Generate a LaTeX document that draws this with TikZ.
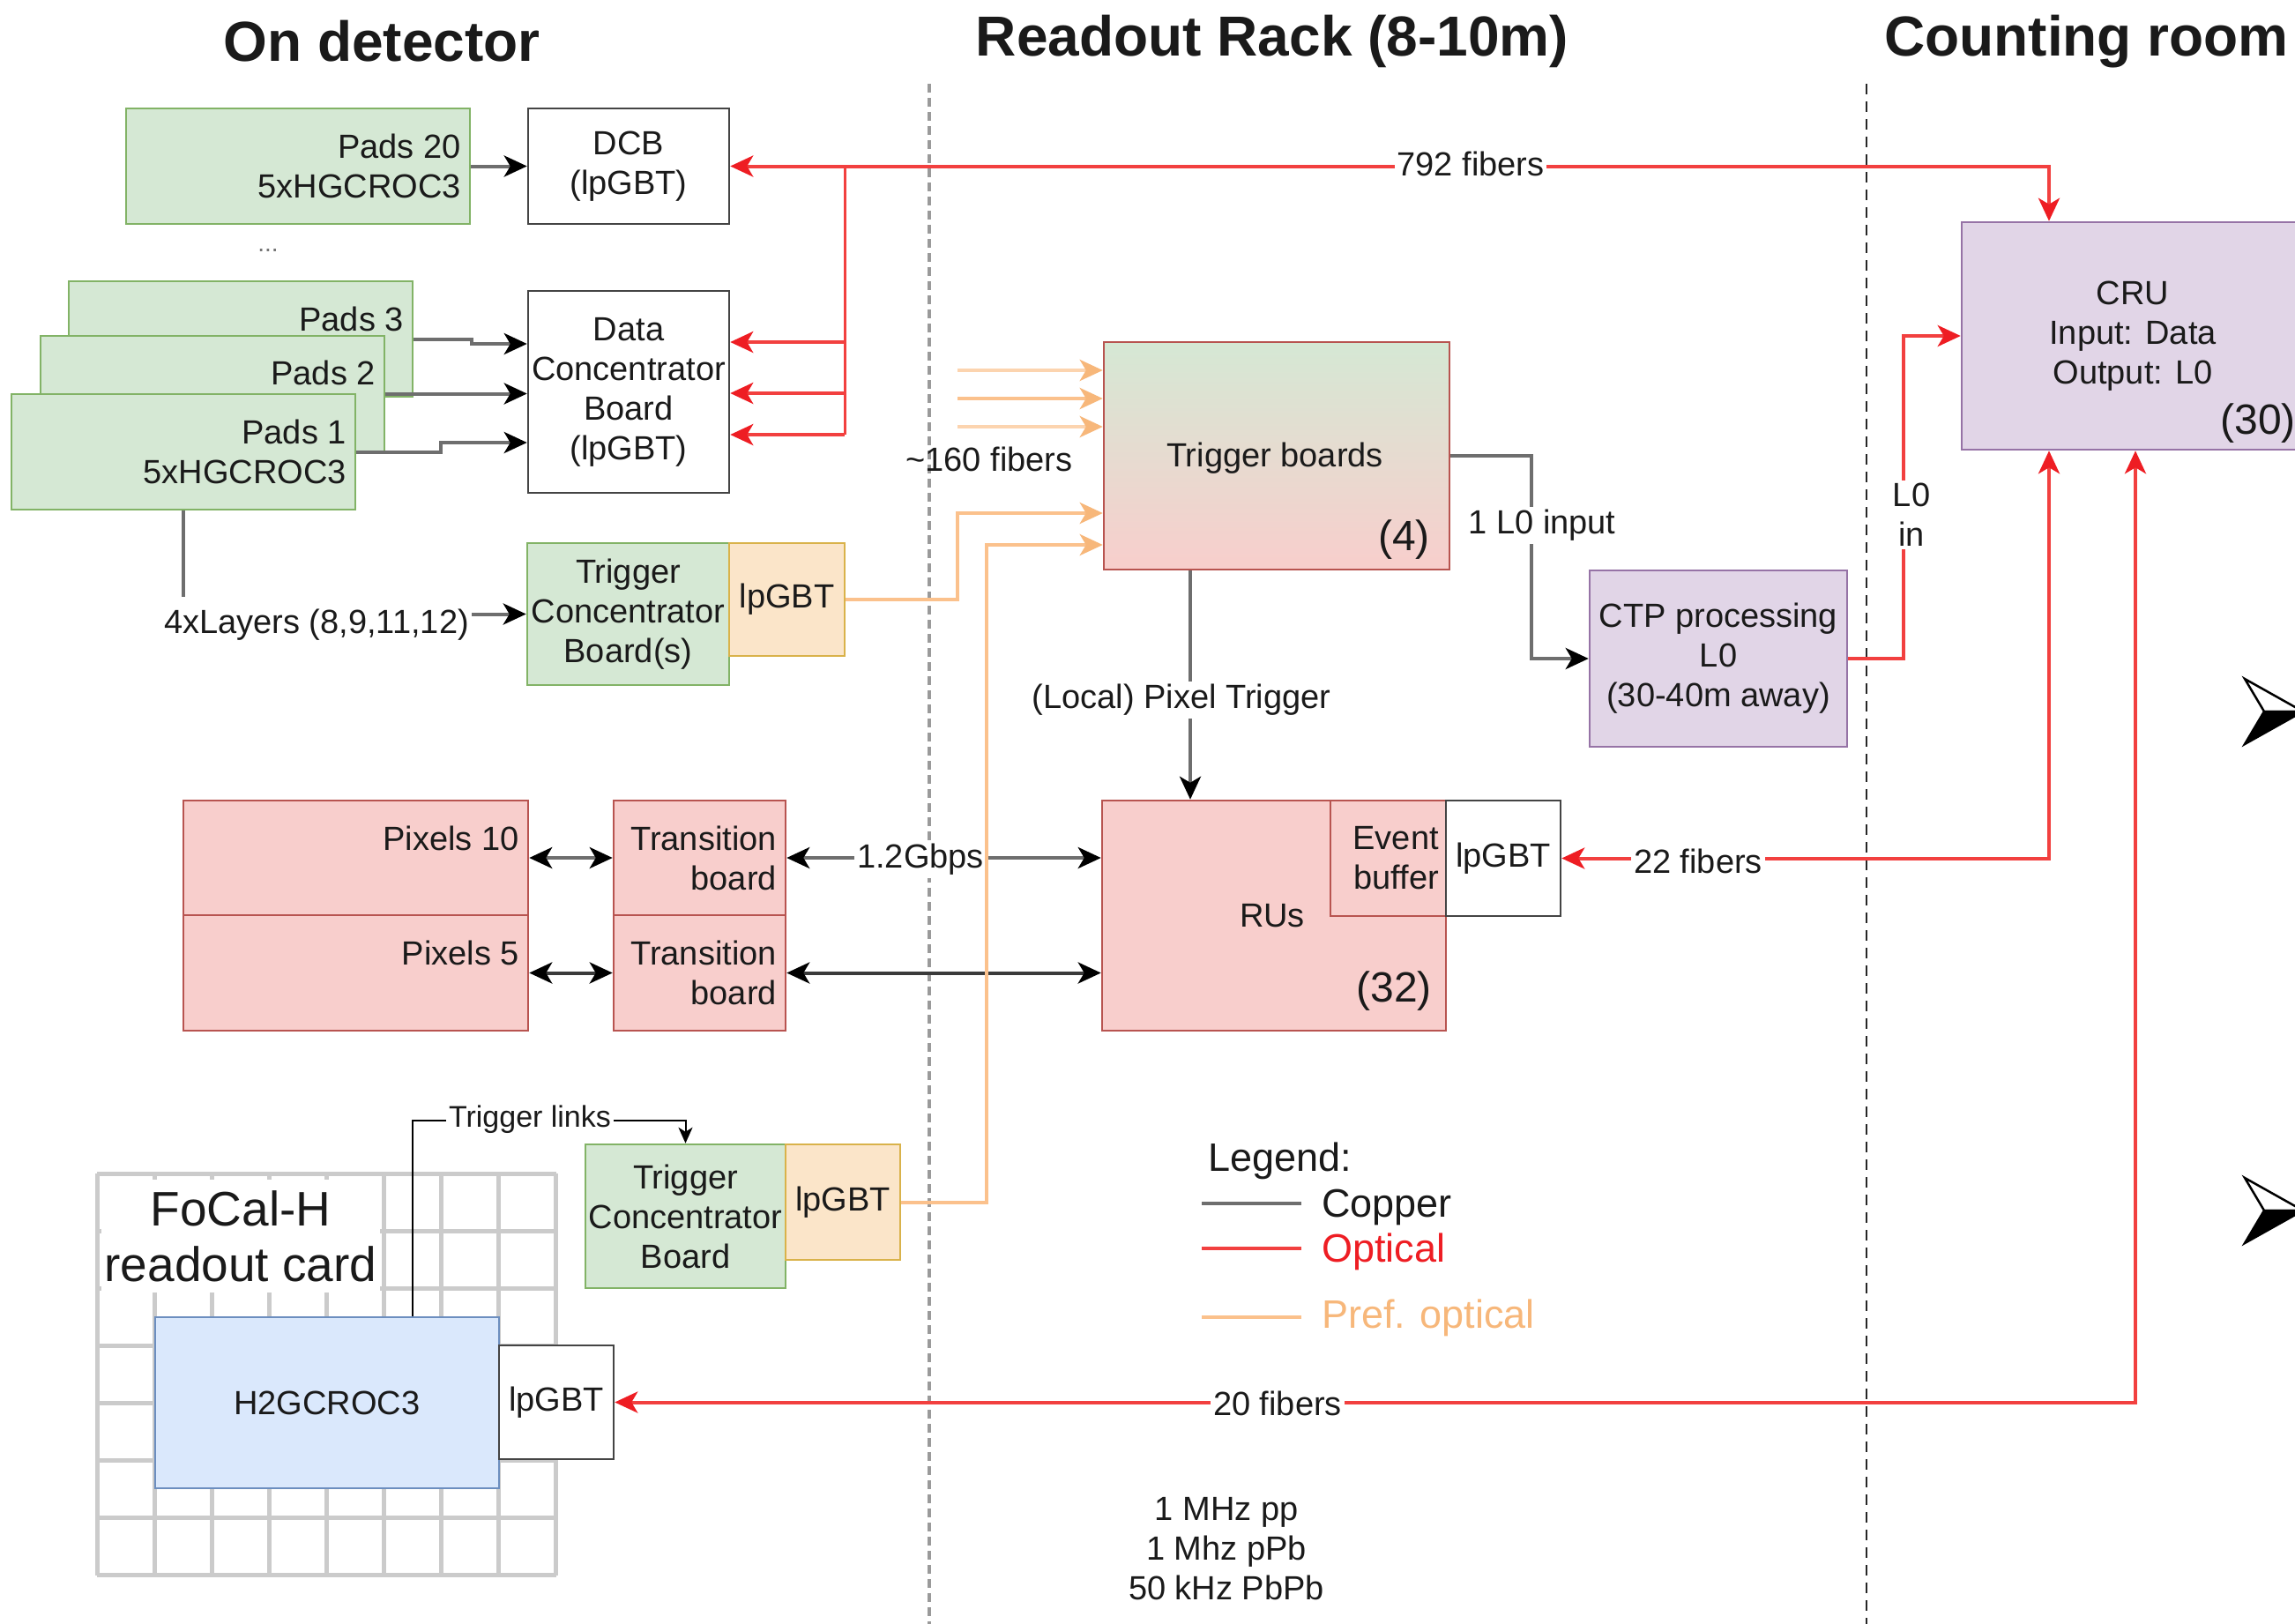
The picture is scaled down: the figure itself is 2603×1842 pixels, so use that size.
\documentclass[tikz,border=0pt]{standalone}
\usepackage{fontspec}
\setmainfont{Liberation Sans}
\usetikzlibrary{arrows.meta,calc}

\definecolor{grF}{HTML}{D5E8D4}\definecolor{grD}{HTML}{82B366}
\definecolor{rdF}{HTML}{F8CECC}\definecolor{rdD}{HTML}{B85450}
\definecolor{puF}{HTML}{E1D5E7}\definecolor{puD}{HTML}{9673A6}
\definecolor{orF}{HTML}{FBE5C9}\definecolor{orD}{HTML}{D9B24A}
\definecolor{blF}{HTML}{DAE8FC}\definecolor{blD}{HTML}{6C8EBF}
\definecolor{boxK}{HTML}{444444}
\definecolor{optL}{HTML}{F2403F}\definecolor{optT}{HTML}{EE1D23}
\definecolor{prefL}{HTML}{FBC18C}\definecolor{prefT}{HTML}{F7B77A}
\definecolor{cuL}{HTML}{6E6E6E}\definecolor{cuD}{HTML}{3A3A3A}
\definecolor{txt}{HTML}{1A1A1A}
\definecolor{gridC}{HTML}{CBCBCB}
\definecolor{sepG}{HTML}{9A9A9A}

\newcommand\lblfont{\fontsize{38}{45}\selectfont}
\newcommand\smallfont{\fontsize{34}{40}\selectfont}
\newcommand\bigfont{\fontsize{48}{56}\selectfont}
\newcommand\legfont{\fontsize{45}{52}\selectfont}
\newcommand\cardfont{\fontsize{55}{63}\selectfont}
\newcommand\titlefont{\fontsize{64}{72}\selectfont\bfseries}

\begin{document}
\begin{tikzpicture}[x=1pt,y=-1pt,
  every node/.style={inner sep=0pt,text=txt,font=\lblfont,align=center},
  sz/.style n args={2}{minimum width=#1pt,minimum height=#2pt},
  box/.style={draw,line width=2.5pt},
  greenbox/.style={box,fill=grF,draw=grD},
  redbox/.style={box,fill=rdF,draw=rdD},
  purplebox/.style={box,fill=puF,draw=puD},
  orangebox/.style={box,fill=orF,draw=orD},
  bluebox/.style={box,fill=blF,draw=blD},
  whitebox/.style={box,fill=white,draw=boxK},
  rtext/.style={anchor=east,align=right},
  lab/.style={fill=white,inner xsep=3pt,inner ysep=3pt},
  cu/.style={draw=cuL,line width=4pt},
  cuarr/.style={cu,-{Stealth[length=26pt,width=24pt,inset=7pt,color=black]}},
  cubi/.style={cu,{Stealth[length=26pt,width=24pt,inset=7pt,color=black]}-{Stealth[length=26pt,width=24pt,inset=7pt,color=black]}},
  opt/.style={draw=optL,line width=4pt},
  optarr/.style={opt,-{Stealth[length=26pt,width=24pt,inset=7pt,color=optT]}},
  optbi/.style={opt,{Stealth[length=26pt,width=24pt,inset=7pt,color=optT]}-{Stealth[length=26pt,width=24pt,inset=7pt,color=optT]}},
  pref/.style={draw=prefL,line width=4pt},
  prefarr/.style={pref,-{Stealth[length=26pt,width=24pt,inset=7pt,color=prefT]}},
  thinarr/.style={draw=black,line width=2pt,-{Stealth[length=18pt,width=16pt,inset=5pt,color=black]}},
  sepA/.style={draw=sepG,line width=3.5pt,dash pattern=on 10pt off 6pt},
  sepB/.style={draw=black!85,line width=2.5pt,dash pattern=on 12pt off 8pt},
  gridline/.style={draw=gridC,line width=5pt}
]
\useasboundingbox (0,0) rectangle (2603,1842);
\fill[white] (0,0) rectangle (2603,1842);

% zone separators
\draw[sepA] (1054,95) -- (1054,1842);
\draw[sepB] (2117,95) -- (2117,1842);

% zone titles
\node[font=\titlefont] (tDet) at (433,47) {On detector};
\node[font=\titlefont] (tRack) at (1443,47) {Readout Rack (8-10m)};
\node[font=\titlefont,anchor=west] (tCount) at (2137,47) {Counting room};

% ---------- pad layers ----------
\node[greenbox,sz={390}{131}] (p20) at (338,188.5) {};
\node[rtext] (p20t) at (523,188.5) {Pads 20\\5xHGCROC3};
\node[font=\fontsize{28}{32}\selectfont,text=black!55] (dots) at (304,284) {...};
\node[greenbox,sz={390}{131}] (p3) at (273,384.5) {};
\node[rtext] (p3t) at (458,362) {Pads 3};
\node[greenbox,sz={390}{131}] (p2) at (241,446.5) {};
\node[rtext] (p2t) at (426,423) {Pads 2};
\node[greenbox,sz={390}{131}] (p1) at (208,512.5) {};
\node[rtext] (p1t) at (393,512.5) {Pads 1\\5xHGCROC3};

\node[whitebox,sz={228}{131}] (dcb) at (713,188.5) {DCB\\(lpGBT)};
\node[whitebox,sz={228}{229}] (dc) at (713,444.5) {Data\\Concentrator\\Board\\(lpGBT)};

% pads to concentrators (copper)
\draw[cuarr] (p20.east) -- (dcb.west);
\coordinate (j3) at (535,390);
\draw[cuarr] (p3.east) -- (535,384.5) -- (j3) -- (dc.west |- j3);
\draw[cuarr] (p2.east) -- (dc.west |- p2.east);
\coordinate (j1) at (500,502);
\draw[cuarr] (p1.east) -- (500,512.5) -- (j1) -- (dc.west |- j1);

% trigger concentrator (pads)
\node[greenbox,sz={229}{161}] (tcb1) at (712.5,696.5) {Trigger\\Concentrator\\Board(s)};
\node[orangebox,sz={131}{128}] (lp1) at (892.5,680) {lpGBT};
\draw[cuarr] (p1.south) |- (tcb1.west);
\node[lab,inner ysep=14pt] (layers) at (359,709) {4xLayers (8,9,11,12)};

% ---------- optical links to the counting room ----------
\node[purplebox,sz={388}{258}] (cru) at (2419,381) {CRU\\Input: Data\\Output: L0};
\node[font=\bigfont,anchor=east] (cruN) at (2604,480) {(30)};

\draw[optbi] (dcb.east) -| ([xshift=-95pt]cru.north);
\node[lab] (f792) at (1668,186) {792 fibers};
\coordinate (tr0) at (958,188.5);
\coordinate (tr1) at (958,388);
\coordinate (tr2) at (958,446);
\coordinate (tr3) at (958,493);
\draw[opt,line width=3pt] (tr0) -- (tr3);
\draw[optarr] (tr1) -- (dc.east |- tr1);
\draw[optarr] (tr2) -- (dc.east |- tr2);
\draw[optarr] (tr3) -- (dc.east |- tr3);

% ---------- trigger boards ----------
\node[box,draw=rdD,top color=grF,bottom color=rdF,sz={392}{258}] (tb) at (1448,517) {};
\node (tbt) at (1446,520) {Trigger boards};
\node[font=\bigfont,anchor=east] (tbN) at (1622,612) {(4)};

\coordinate (o1) at (1086,420);
\coordinate (o2) at (1086,452);
\coordinate (o3) at (1086,484);
\draw[prefarr,draw=prefL!70] (o1) -- (tb.west |- o1);
\draw[prefarr] (o2) -- (tb.west |- o2);
\draw[prefarr,draw=prefL!70] (o3) -- (tb.west |- o3);
\node (f160) at (1122,521) {\textasciitilde160 fibers};
\draw[prefarr] (lp1.east) -- (1086,680) |- ([yshift=-65pt]tb.west);

% CTP
\node[purplebox,sz={292}{200}] (ctp) at (1949,747) {CTP processing\\L0\\(30-40m away)};
\draw[cuarr] (tb.east) -| ([xshift=-65pt]ctp.west) -- (ctp.west);
\node[lab] (l0inp) at (1749,596) {1 L0 input};
\draw[optarr] (ctp.east) -| ([xshift=-65pt]cru.west) -- (cru.west);
\node[lab] (l0in) at (2168,584) {L0\\in};

% ---------- pixel layers ----------
\node[redbox,sz={391}{130}] (px10) at (403.5,973) {};
\node[rtext] (px10t) at (589,951) {Pixels 10};
\node[redbox,sz={391}{131}] (px5) at (403.5,1103.5) {};
\node[rtext] (px5t) at (589,1081) {Pixels 5};
\node[redbox,sz={195}{130}] (trb1) at (793.5,973) {};
\node[rtext] (trb1t) at (881,973.5) {Transition\\board};
\node[redbox,sz={195}{131}] (trb2) at (793.5,1103.5) {};
\node[rtext] (trb2t) at (881,1103.5) {Transition\\board};

\node[redbox,sz={390}{261}] (rus) at (1445,1038.5) {};
\node (rust) at (1443,1039) {RUs};
\node[font=\bigfont,anchor=east] (rusN) at (1624,1124) {(32)};
\node[redbox,sz={131}{131}] (eb) at (1574.5,973.5) {};
\node[rtext] (ebt) at (1632,973.5) {Event\\buffer};
\node[whitebox,sz={130}{131}] (rulp) at (1705,973.5) {lpGBT};

\draw[cubi] (px10.east) -- (trb1.west);
\draw[cubi] (trb1.east) -- (rus.west |- trb1.east);
\node[lab] (gbps) at (1044,975) {1.2Gbps};
\draw[cubi,draw=cuD] (px5.east) -- (trb2.west);
\draw[cubi,draw=cuD] (trb2.east) -- (rus.west |- trb2.east);

\draw[cuarr] ([xshift=-98pt]tb.south) -- ([xshift=-98pt]tb.south |- rus.north);
\node[lab] (pixtrig) at (1340,794) {(Local) Pixel Trigger};

\draw[optbi] (rulp.east) -| ([xshift=-95pt]cru.south);
\node[lab] (f22) at (1926,977) {22 fibers};

% ---------- FoCal-H readout card ----------
\foreach \k in {0,...,8} {\draw[gridline] ({110+65.1*\k},1331) -- ({110+65.1*\k},1787);}
\foreach \k in {0,...,7} {\draw[gridline] (110,{1331+65.1*\k}) -- (631,{1331+65.1*\k});}
\node[fill=white,sz={316}{128},font=\cardfont] (card) at (273,1402) {FoCal-H\\readout card};

\node[bluebox,sz={390}{194}] (h2g) at (371,1591) {H2GCROC3};
\node[whitebox,sz={130}{129}] (h2lp) at (631,1590.5) {lpGBT};

\node[greenbox,sz={227}{163}] (tcb2) at (777.5,1379.5) {Trigger\\Concentrator\\Board};
\node[orangebox,sz={130}{131}] (lp2) at (956,1363.5) {lpGBT};

\draw[thinarr] ([xshift=97pt]h2g.north) -- ++(0,-222) -| (tcb2.north);
\node[lab,font=\smallfont] (tlinks) at (601,1270) {Trigger links};

\draw[prefarr] (lp2.east) -- (1119,1363.5) |- ([yshift=-101pt]tb.west);

\draw[optbi] (h2lp.east) -| ([xshift=3pt]cru.south);
\node[lab] (f20) at (1449,1592) {20 fibers};

% ---------- legend ----------
\node[anchor=west,font=\legfont] (leg) at (1370,1317) {Legend:};
\coordinate (lcA) at (1363,1365); \coordinate (lcB) at (1476,1365);
\draw[cu] (lcA) -- (lcB);
\node[anchor=west,font=\legfont] (legcu) at (1499,1369) {Copper};
\coordinate (loA) at (1363,1416); \coordinate (loB) at (1476,1416);
\draw[opt] (loA) -- (loB);
\node[anchor=west,font=\legfont,text=optT] (legopt) at (1499,1420) {Optical};
\coordinate (lpA) at (1363,1494); \coordinate (lpB) at (1476,1494);
\draw[pref] (lpA) -- (lpB);
\node[anchor=west,font=\legfont,text=prefT] (legpref) at (1499,1495) {Pref. optical};

% interaction rates
\node (rates) at (1391,1757) {1 MHz pp\\1 Mhz pPb\\50 kHz PbPb};

% bullet arrowheads at the right margin
\foreach \cy in {807,1373} {
  \filldraw[fill=white,draw=black,line width=2.5pt,line join=miter] (2546,{\cy-37}) -- (2612,\cy) -- (2568,\cy) -- cycle;
  \filldraw[fill=black,draw=black,line width=2.5pt,line join=miter] (2568,\cy) -- (2612,\cy) -- (2546,{\cy+37}) -- cycle;
}
\end{tikzpicture}
\end{document}
